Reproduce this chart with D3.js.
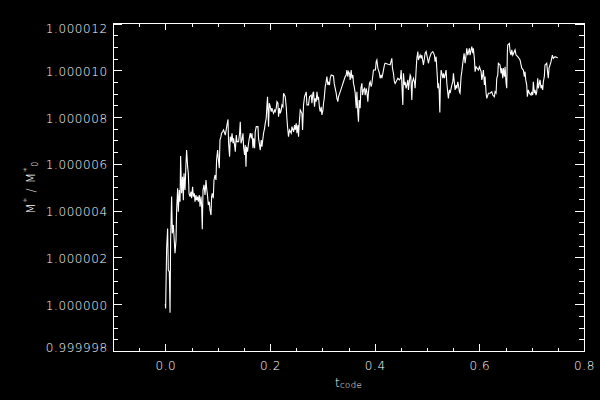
<!DOCTYPE html>
<html><head><meta charset="utf-8">
<script src="https://cdn.jsdelivr.net/npm/d3@7"></script>
<style>
html,body{margin:0;padding:0;background:#000;}
svg{display:block;}
text{font-family:"DejaVu Sans",sans-serif;fill:#fff;font-weight:200;}
</style></head><body>
<svg id="c" width="600" height="400"></svg>
<script>
// ---- data ----
const tCode = [
0.0000,0.0006,0.0010,0.0025,0.0044,0.0057,0.0076,0.0090,0.0101,0.0120,
0.0134,0.0153,0.0185,0.0204,0.0216,0.0235,0.0248,0.0267,0.0281,0.0292,
0.0311,0.0330,0.0344,0.0357,0.0376,0.0395,0.0407,0.0426,0.0439,0.0453,
0.0472,0.0491,0.0502,0.0521,0.0535,0.0554,0.0567,0.0586,0.0598,0.0617,
0.0630,0.0649,0.0663,0.0682,0.0693,0.0706,0.0720,0.0739,0.0758,0.0777,
0.0789,0.0808,0.0821,0.0840,0.0853,0.0873,0.0884,0.0897,0.0916,0.0930,
0.0949,0.0968,0.0979,0.0999,0.1012,0.1031,0.1044,0.1063,0.1075,0.1094,
0.1113,
0.1146,0.1178,0.1197,0.1209,0.1228,0.1241,0.1260,0.1274,0.1293,0.1304,
0.1323,0.1337,0.1356,0.1369,0.1400,0.1419,0.1432,0.1446,0.1464,0.1484,
0.1495,0.1514,0.1527,0.1541,0.1552,0.1571,0.1590,0.1604,0.1623,0.1642,
0.1656,0.1675,0.1686,0.1706,0.1718,0.1737,0.1770,0.1781,0.1800,0.1814,
0.1833,0.1846,0.1865,0.1877,0.1896,0.1909,0.1928,0.1942,0.1953,0.1972,
0.1986,0.2005,0.2024,0.2037,0.2056,0.2068,0.2087,0.2100,0.2119,0.2133,
0.2152,0.2163,0.2182,0.2196,0.2215,0.2228,0.2247,0.2259,0.2291,0.2310,
0.2323,0.2335,0.2354,0.2373,0.2406,0.2419,0.2450,0.2469,0.2482,0.2501,
0.2515,0.2534,0.2545,0.2559,0.2578,0.2610,0.2622,0.2641,0.2660,0.2692,
0.2706,0.2736,0.2755,0.2788,0.2801,0.2820,0.2832,0.2851,
0.2864,0.2883,0.2897,0.2916,0.2927,0.2946,0.2960,0.2979,0.2992,0.3011,
0.3023,0.3036,0.3055,0.3068,0.3087,0.3106,0.3118,0.3137,0.3150,0.3169,
0.3213,0.3227,0.3246,0.3265,0.3278,0.3297,0.3309,0.3341,0.3374,0.3404,
0.3437,0.3456,0.3469,0.3488,0.3500,0.3519,0.3532,0.3551,0.3565,0.3584,
0.3595,0.3609,0.3628,0.3647,0.3660,0.3679,0.3691,0.3704,0.3723,0.3737,
0.3756,0.3768,0.3786,0.3805,0.3819,0.3838,0.3851,0.3870,0.3882,0.3901,
0.3914,0.3933,0.3947,0.3966,0.3977,0.4015,0.4029,0.4042,0.4061,0.4092,
0.4105,0.4124,0.4137,0.4157,0.4168,0.4187,0.4200,0.4296,0.4328,0.4340,
0.4359,0.4378,
0.4392,0.4443,0.4474,0.4493,0.4506,0.4519,0.4538,0.4550,0.4569,0.4582,
0.4601,0.4615,0.4634,0.4645,0.4659,0.4678,0.4691,0.4710,0.4722,0.4741,
0.4760,0.4773,0.4792,0.4806,0.4825,0.4836,0.4869,0.4888,0.4901,0.4932,
0.4951,0.4964,0.4983,0.5016,0.5027,0.5046,0.5079,0.5111,0.5142,0.5155,
0.5174,0.5187,0.5199,0.5207,0.5218,0.5232,0.5245,0.5257,0.5270,0.5303,
0.5314,0.5333,0.5365,0.5379,0.5398,0.5409,0.5428,0.5442,0.5474,0.5493,
0.5505,0.5524,0.5537,0.5556,0.5570,0.5589,0.5600,0.5619,0.5632,0.5651,
0.5665,0.5684,0.5709,0.5728,0.5747,0.5760,0.5779,0.5810,0.5823,0.5856,
0.5875,0.5886,0.5905,
0.5919,0.5938,0.5982,0.6001,0.6034,0.6047,0.6066,0.6077,0.6097,0.6110,
0.6129,0.6142,0.6173,0.6205,0.6238,0.6257,0.6287,0.6301,0.6320,0.6333,
0.6352,0.6364,0.6396,0.6415,0.6429,0.6448,0.6459,0.6479,0.6492,0.6511,
0.6524,0.6536,0.6543,0.6574,0.6587,0.6606,0.6620,0.6639,0.6683,0.6702,
0.6735,0.6778,0.6797,0.6811,0.6841,0.6860,0.6873,0.6887,0.6906,0.6917,
0.6936,0.6956,0.6988,0.7001,0.7020,0.7032,0.7051,0.7064,0.7083,0.7097,
0.7116,0.7128,0.7160,0.7179,0.7192,0.7211,0.7223,0.7242,0.7255,0.7288,
0.7307,0.7318,0.7332,0.7370,0.7395,0.7414,0.7446,0.7498
];
const massRatio = [
1.00000001,0.99999982,1.00000039,1.00000239,1.00000324,1.00000146,1.00000139,0.99999964,1.00000274,1.00000460,
1.00000303,1.00000339,1.00000218,1.00000274,1.00000403,1.00000496,1.00000395,1.00000488,1.00000438,1.00000634,
1.00000474,1.00000545,1.00000445,1.00000560,1.00000488,1.00000602,1.00000659,1.00000588,1.00000560,1.00000474,
1.00000460,1.00000481,1.00000453,1.00000502,1.00000460,1.00000474,1.00000438,1.00000467,1.00000445,1.00000460,
1.00000438,1.00000467,1.00000417,1.00000460,1.00000424,1.00000320,1.00000488,1.00000510,1.00000467,1.00000531,
1.00000496,1.00000460,1.00000424,1.00000438,1.00000403,1.00000381,1.00000460,1.00000474,1.00000453,1.00000531,
1.00000552,1.00000531,1.00000616,1.00000659,1.00000624,1.00000581,1.00000702,1.00000716,1.00000731,1.00000737,
1.00000745,
1.00000723,1.00000766,1.00000790,1.00000688,1.00000631,1.00000716,1.00000695,1.00000731,1.00000688,1.00000709,
1.00000681,1.00000652,1.00000723,1.00000695,1.00000695,1.00000731,1.00000780,1.00000688,1.00000702,1.00000731,
1.00000673,1.00000638,1.00000681,1.00000588,1.00000673,1.00000652,1.00000688,1.00000709,1.00000731,1.00000709,
1.00000731,1.00000667,1.00000709,1.00000667,1.00000737,1.00000759,1.00000759,1.00000709,1.00000681,1.00000659,
1.00000702,1.00000673,1.00000709,1.00000731,1.00000752,1.00000773,1.00000795,1.00000852,1.00000887,1.00000759,
1.00000859,1.00000844,1.00000823,1.00000838,1.00000823,1.00000816,1.00000830,1.00000823,1.00000838,1.00000866,
1.00000859,1.00000802,1.00000838,1.00000816,1.00000830,1.00000852,1.00000844,1.00000902,1.00000887,1.00000844,
1.00000795,1.00000759,1.00000716,1.00000745,1.00000731,1.00000759,1.00000737,1.00000766,1.00000745,1.00000773,
1.00000731,1.00000766,1.00000716,1.00000773,1.00000830,1.00000816,1.00000745,1.00000852,1.00000887,1.00000908,
1.00000852,1.00000852,1.00000887,1.00000894,1.00000859,1.00000902,1.00000908,1.00000844,
1.00000880,1.00000866,1.00000908,1.00000873,1.00000887,1.00000838,1.00000823,1.00000844,1.00000809,1.00000830,
1.00000859,1.00000880,1.00000930,1.00000944,1.00000973,1.00000937,1.00000951,1.00000937,1.00000966,1.00000980,
1.00000976,1.00000944,1.00000923,1.00000902,1.00000880,1.00000866,1.00000887,1.00000908,1.00000930,1.00000951,
1.00000973,1.00000980,1.00001001,1.00000973,1.00000994,1.00000987,1.00000959,1.00001001,1.00000966,1.00000980,
1.00000944,1.00000930,1.00000902,1.00000838,1.00000908,1.00000816,1.00000780,1.00000873,1.00000838,1.00000923,
1.00000944,1.00000894,1.00000916,1.00000923,1.00000894,1.00000923,1.00000908,1.00000866,1.00000908,1.00000944,
1.00000951,1.00000930,1.00000944,1.00000980,1.00001001,1.00001001,1.00001037,1.00001044,1.00001009,1.00000987,
1.00000966,1.00000980,1.00000966,1.00000987,1.00001001,1.00001023,1.00001030,1.00001023,1.00001051,1.00001009,
1.00000987,1.00000951,
1.00000944,1.00000966,1.00000959,1.00000966,1.00001001,1.00000944,1.00000852,1.00000987,1.00000937,1.00000951,
1.00000923,1.00000937,1.00000959,1.00000916,1.00000944,1.00000980,1.00000973,1.00000873,1.00000951,1.00000966,
1.00000951,1.00000923,1.00001001,1.00001051,1.00001080,1.00001044,1.00001065,1.00001051,1.00001065,1.00001023,
1.00001051,1.00001073,1.00001080,1.00001044,1.00001030,1.00001051,1.00001073,1.00001080,1.00001065,1.00001037,
1.00001058,1.00001009,1.00000966,1.00000923,1.00000944,1.00000916,1.00000820,1.00000951,1.00001001,1.00000966,
1.00000987,1.00000966,1.00001001,1.00000944,1.00000902,1.00000880,1.00000916,1.00000902,1.00000937,1.00000951,
1.00000987,1.00000944,1.00000916,1.00000937,1.00000923,1.00000951,1.00000937,1.00000908,1.00000902,1.00000973,
1.00000994,1.00001030,1.00001073,1.00001030,1.00001065,1.00001094,1.00001065,1.00001094,1.00001065,1.00001101,
1.00001073,1.00001094,1.00001051,
1.00000994,1.00001015,1.00001001,1.00001015,1.00000994,1.00000959,1.00000980,1.00001001,1.00000937,1.00000973,
1.00000902,1.00000880,1.00000902,1.00000902,1.00000908,1.00000894,1.00000887,1.00000908,1.00000902,1.00000966,
1.00000980,1.00001030,1.00001023,1.00000987,1.00001009,1.00000966,1.00001009,1.00000973,1.00001015,1.00000944,
1.00000923,1.00001080,1.00001108,1.00001115,1.00001080,1.00001065,1.00001087,1.00001065,1.00001087,1.00001065,
1.00001058,1.00001044,1.00001023,1.00001009,1.00001001,1.00000973,1.00000994,1.00000959,1.00000937,1.00000887,
1.00000916,1.00000902,1.00000894,1.00000908,1.00000894,1.00000951,1.00000902,1.00000916,1.00000894,1.00000908,
1.00000966,1.00000923,1.00000959,1.00000923,1.00000937,1.00000916,1.00000951,1.00000973,1.00001023,1.00001030,
1.00000987,1.00000966,1.00001009,1.00001037,1.00001065,1.00001051,1.00001058,1.00001054
];
const xDomain = [-0.1, 0.8];
const yDomain = [0.999998, 1.000012];
const xTickValues = [0.0, 0.2, 0.4, 0.6, 0.8];
const xTickLabels = ["0.0", "0.2", "0.4", "0.6", "0.8"];
const yTickValues = [0.999998, 1.000000, 1.000002, 1.000004, 1.000006, 1.000008, 1.000010, 1.000012];
const yTickLabels = ["0.999998", "1.000000", "1.000002", "1.000004", "1.000006", "1.000008", "1.000010", "1.000012"];

// ---- layout ----
const L = 113, R = 584, T = 23.5, B = 351;
const svg = d3.select("#c");
svg.append("rect").attr("width", 600).attr("height", 400).attr("fill", "#000");

const x = d3.scaleLinear().domain(xDomain).range([L, R]);
const y = d3.scaleLinear().domain(yDomain).range([B, T]);

const xMinor = d3.range(-1, 16).filter(i => i % 4 !== 0).map(i => i * 0.05);
const yMinor = d3.range(1, 28).filter(i => i % 4 !== 0).map(i => yDomain[0] + i * 0.5e-6);

const xMaj = 6.6, xMin = 3.3, yMaj = 9.2, yMin = 4.6;

function styleAxis(g) {
  g.select(".domain").remove();
  g.selectAll("line").attr("stroke", "#fff").attr("stroke-width", 1).attr("shape-rendering", "crispEdges");
}

// bottom
const gB = svg.append("g").attr("transform", `translate(0,${B})`)
  .call(d3.axisBottom(x).tickValues(xTickValues).tickSize(-xMaj).tickFormat((d, i) => xTickLabels[i]));
styleAxis(gB);
gB.selectAll("text").attr("y", 18.7).attr("dy", null)
  .attr("font-size", 12).attr("letter-spacing", 0.6).attr("fill", "#fff")
  .attr("font-family", "DejaVu Sans, sans-serif").attr("font-weight", 200);
svg.append("g").attr("transform", `translate(0,${B})`)
  .call(d3.axisBottom(x).tickValues(xMinor).tickSize(-xMin).tickFormat("")).call(styleAxis);
// top
svg.append("g").attr("transform", `translate(0,${T})`)
  .call(d3.axisTop(x).tickValues(xTickValues).tickSize(-xMaj).tickFormat("")).call(styleAxis);
svg.append("g").attr("transform", `translate(0,${T})`)
  .call(d3.axisTop(x).tickValues(xMinor).tickSize(-xMin).tickFormat("")).call(styleAxis);
// left
const gL = svg.append("g").attr("transform", `translate(${L},0)`)
  .call(d3.axisLeft(y).tickValues(yTickValues).tickSize(-yMaj).tickFormat((d, i) => yTickLabels[i]));
styleAxis(gL);
gL.selectAll("text").attr("x", -5.2).attr("dy", null)
  .attr("y", (d, i) => i === 0 ? 0.7 : (i === yTickValues.length - 1 ? 8.5 : 5))
  .attr("font-size", 12).attr("letter-spacing", 0.6).attr("fill", "#fff")
  .attr("font-family", "DejaVu Sans, sans-serif").attr("font-weight", 200);
svg.append("g").attr("transform", `translate(${L},0)`)
  .call(d3.axisLeft(y).tickValues(yMinor).tickSize(-yMin).tickFormat("")).call(styleAxis);
// right
svg.append("g").attr("transform", `translate(${R},0)`)
  .call(d3.axisRight(y).tickValues(yTickValues).tickSize(-yMaj).tickFormat("")).call(styleAxis);
svg.append("g").attr("transform", `translate(${R},0)`)
  .call(d3.axisRight(y).tickValues(yMinor).tickSize(-yMin).tickFormat("")).call(styleAxis);

// frame
svg.append("rect").attr("x", L).attr("y", T).attr("width", R - L).attr("height", B - T)
  .attr("fill", "none").attr("stroke", "#fff").attr("stroke-width", 1).attr("shape-rendering", "crispEdges");

// data line
const line = d3.line().x((d, i) => x(tCode[i])).y(d => y(d));
svg.append("path").datum(massRatio).attr("d", line)
  .attr("fill", "none").attr("stroke", "#fff").attr("stroke-width", 1.1);

// axis titles
const xt = svg.append("text").attr("x", (L + R) / 2).attr("y", 386.5).attr("text-anchor", "middle")
  .attr("font-size", 12).attr("letter-spacing", 0.4);
xt.append("tspan").text("t");
xt.append("tspan").attr("font-size", 8.5).attr("dy", 1).text("code");

const yt = svg.append("text").attr("transform", `translate(35,${(T + B) / 2}) rotate(-90)`)
  .attr("text-anchor", "middle").attr("font-size", 12).attr("letter-spacing", 0.8);
yt.append("tspan").text("M");
yt.append("tspan").attr("font-size", 9).attr("dy", -5).text("*");
yt.append("tspan").attr("font-size", 12).attr("dy", 5).text(" / M");
yt.append("tspan").attr("font-size", 9).attr("dy", -5).text("*");
yt.append("tspan").attr("font-size", 8).attr("dy", 8).text("0");
</script>
</body></html>
